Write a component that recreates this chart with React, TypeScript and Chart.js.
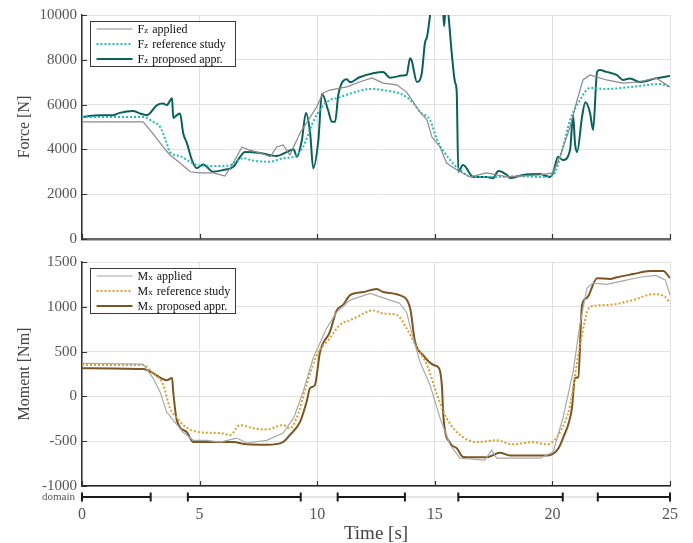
import React, { useEffect, useRef } from "react";
import { Chart, registerables } from "chart.js";

Chart.register(...registerables);

// ---------- data ----------
const X_TICKS = [0, 5, 10, 15, 20, 25];
const FZ_TICKS = [0, 2000, 4000, 6000, 8000, 10000];
const MX_TICKS = [-1000, -500, 0, 500, 1000, 1500];

const FZ_APPLIED_T = [0, 2.6, 3.0, 3.45, 3.74, 4.17, 4.6, 5.0, 5.58, 6.08, 6.43, 6.8, 7.06, 7.7, 8.0, 8.28, 8.55, 8.84, 9.27, 9.62, 9.98, 10.25, 10.54, 11.26, 11.8, 12.33, 12.8, 13.38, 13.8, 14.08, 14.37, 14.67, 14.88, 15.22, 15.5, 15.94, 16.5, 17.2, 18.07, 19.47, 20.03, 20.32, 20.75, 21.05, 21.3, 21.6, 22.3, 23.0, 23.7, 24.4, 25];
const FZ_APPLIED = [5230, 5230, 4730, 4110, 3750, 3390, 3000, 2950, 2950, 2810, 3390, 4110, 3990, 3800, 3670, 4110, 4200, 3750, 4730, 5300, 5900, 6520, 6650, 6790, 7010, 7190, 6960, 6880, 6560, 6120, 5670, 5310, 4550, 4110, 3390, 3080, 2770, 2950, 2770, 2860, 2950, 3670, 5000, 6200, 7100, 7320, 7100, 6960, 7010, 7190, 6790];

const FZ_REF_T = [0, 2.6, 3.03, 3.32, 3.6, 3.74, 4.17, 4.46, 4.88, 5.74, 6.3, 6.85, 7.27, 8.0, 8.56, 9.0, 9.4, 9.8, 10.2, 10.54, 10.83, 11.5, 12.25, 12.8, 13.65, 14.08, 14.37, 14.8, 15.1, 15.65, 16.07, 16.6, 17.5, 18.5, 19.5, 20.03, 20.45, 20.75, 21.17, 21.6, 22.3, 23.7, 24.57, 25];
const FZ_REF = [5450, 5450, 5230, 5000, 4280, 3880, 3700, 3530, 3300, 3260, 3300, 3610, 3500, 3450, 3610, 3670, 4110, 5170, 5900, 6200, 6290, 6520, 6700, 6650, 6430, 6070, 5670, 5310, 4420, 3530, 3080, 2770, 2770, 2800, 2770, 2860, 4110, 5310, 6200, 6740, 6700, 6830, 6920, 6790];

const FZ_PROP_T = [0, 0.77, 1.33, 1.6, 2.17, 2.47, 2.76, 3.19, 3.45, 3.6, 3.83, 3.88, 4.03, 4.17, 4.3, 4.46, 4.67, 4.88, 5.15, 5.58, 6.0, 6.43, 6.72, 6.93, 7.57, 8.28, 8.7, 9.0, 9.13, 9.35, 9.52, 9.7, 9.83, 10.05, 10.2, 10.46, 10.63, 10.76, 10.9, 11.26, 11.4, 11.8, 12.38, 12.8, 13.1, 13.65, 13.8, 13.95, 14.02, 14.24, 14.45, 14.58, 14.67, 14.8, 14.95, 15.2, 15.35, 15.4, 15.48, 15.58, 15.72, 15.86, 15.93, 16.0, 16.2, 16.64, 17.2, 17.48, 17.7, 18.07, 18.2, 18.75, 19.47, 19.9, 20.03, 20.24, 20.45, 20.75, 20.88, 20.96, 21.05, 21.26, 21.4, 21.6, 21.73, 21.9, 22.02, 22.3, 22.75, 23.0, 23.3, 23.7, 24.4, 25];
const FZ_PROP = [5450, 5530, 5530, 5630, 5710, 5600, 5530, 5980, 6050, 5980, 6280, 5400, 5530, 5600, 4730, 4280, 3530, 3160, 3330, 3000, 3080, 3220, 3670, 3880, 3840, 3710, 3880, 4010, 3670, 4420, 5630, 4730, 3160, 4420, 6480, 5760, 5230, 5230, 6450, 7130, 7000, 7220, 7400, 7460, 7200, 7300, 7320, 8070, 7950, 7010, 7430, 8750, 9030, 10000, 11500, 11000, 10200, 9500, 10800, 10000, 8300, 7000, 6600, 3000, 3300, 2770, 2770, 2720, 3040, 2860, 2720, 2860, 2900, 2770, 2950, 3670, 3530, 3970, 5530, 4280, 3880, 5450, 6100, 5630, 4870, 7460, 7540, 7460, 7320, 7100, 7170, 7010, 7170, 7280];

const MX_APPLIED_T = [0, 2.6, 3.02, 3.32, 3.6, 3.88, 4.3, 4.73, 5.3, 5.87, 6.58, 7.0, 7.85, 8.55, 9.0, 9.4, 9.83, 10.4, 10.83, 11.4, 12.25, 13.1, 13.5, 13.8, 14.08, 14.37, 14.8, 15.22, 15.65, 16.07, 17.13, 17.42, 17.63, 17.9, 19.47, 20.03, 20.45, 20.88, 21.17, 21.47, 21.73, 22.3, 23.0, 23.7, 24.4, 24.8, 25];
const MX_APPLIED = [369, 360, 205, 50, -175, -265, -400, -490, -490, -510, -465, -520, -490, -410, -240, 50, 430, 760, 940, 1075, 1150, 1075, 1040, 940, 650, 385, 125, -240, -540, -690, -710, -600, -690, -690, -690, -620, -240, 270, 800, 1210, 1265, 1250, 1290, 1330, 1350, 1300, 1130];

const MX_REF_T = [0, 2.6, 3.02, 3.45, 3.74, 4.03, 4.46, 5.0, 5.87, 6.3, 6.72, 7.27, 7.85, 8.55, 8.84, 9.13, 9.55, 9.98, 10.54, 10.97, 11.4, 11.68, 12.38, 12.8, 13.38, 13.8, 14.24, 14.67, 15.1, 15.5, 16.07, 16.8, 17.63, 18.3, 19.17, 19.76, 20.32, 20.75, 21.17, 21.6, 22.3, 23.43, 24.28, 24.8, 25];
const MX_REF = [350, 350, 260, 130, -130, -240, -350, -400, -410, -430, -320, -355, -370, -320, -355, -240, 130, 460, 650, 800, 850, 885, 960, 925, 910, 760, 540, 350, 15, -240, -430, -510, -490, -535, -510, -535, -400, -100, 570, 1000, 1020, 1075, 1140, 1110, 1040];

const MX_PROP_T = [0, 2.6, 3.02, 3.32, 3.6, 3.83, 3.88, 4.03, 4.46, 4.73, 5.3, 6.43, 7.0, 7.85, 8.55, 8.84, 9.27, 9.55, 9.7, 9.9, 10.12, 10.54, 10.83, 11.1, 11.4, 11.97, 12.53, 12.8, 13.5, 13.95, 14.16, 14.5, 14.95, 15.18, 15.3, 15.37, 15.65, 15.94, 16.2, 17.2, 17.77, 18.2, 19.76, 20.2, 20.45, 20.83, 20.96, 21.1, 21.26, 21.47, 21.9, 22.45, 22.75, 23.43, 24.15, 24.72, 25];
const MX_PROP = [315, 305, 260, 210, 180, 205, 50, -265, -400, -510, -510, -510, -535, -540, -510, -430, -285, -60, 95, 125, 495, 720, 960, 1020, 1130, 1165, 1200, 1165, 1130, 985, 610, 460, 350, 315, 125, -240, -520, -580, -675, -680, -630, -660, -660, -600, -465, -130, 205, 215, 1020, 1100, 1320, 1310, 1330, 1365, 1400, 1400, 1320];

const DOMAIN_START = [0, 4.5, 10.87, 16, 21.93];
const DOMAIN_END = [2.92, 9.3, 13.73, 20.44, 25];

const FZ_LABELS = ["Fz applied", "Fz reference study", "Fz proposed appr."];
const MX_LABELS = ["Mx applied", "Mx reference study", "Mx proposed appr."];

// ---------- styling ----------
const SERIF = "'Liberation Serif', 'DejaVu Serif', serif";
const GRID = "#e2e2e2";

const pts = (t: number[], v: number[]) => t.map((x, i) => ({ x, y: v[i] }));

const innerTicks = {
  id: "innerTicks",
  afterDatasetsDraw(chart: any) {
    const { ctx, chartArea, scales } = chart;
    ctx.save();
    ctx.strokeStyle = "#333";
    ctx.lineWidth = 1.2;
    ctx.beginPath();
    scales.y.ticks.forEach((t: any) => {
      const py = Math.round(scales.y.getPixelForValue(t.value)) + 0.5;
      ctx.moveTo(chartArea.left, py);
      ctx.lineTo(chartArea.left + 5, py);
    });
    scales.x.ticks.forEach((t: any) => {
      const px = Math.round(scales.x.getPixelForValue(t.value)) + 0.5;
      ctx.moveTo(px, chartArea.bottom);
      ctx.lineTo(px, chartArea.bottom - 5);
    });
    ctx.stroke();
    ctx.restore();
  },
};

const boxLegend = {
  id: "boxLegend",
  afterDraw(chart: any) {
    const { ctx, chartArea } = chart;
    const ds = chart.data.datasets;
    const bx = chartArea.left + 8.5;
    const by = chartArea.top + 6.5;
    const bw = 145;
    const rowH = 15;
    const bh = ds.length * rowH;
    ctx.save();
    ctx.fillStyle = "#ffffff";
    ctx.fillRect(bx, by, bw, bh);
    ctx.strokeStyle = "#3a3a3a";
    ctx.lineWidth = 1;
    ctx.strokeRect(bx, by, bw, bh);
    ds.forEach((d: any, i: number) => {
      const y = by + 7.5 + i * rowH;
      ctx.beginPath();
      ctx.setLineDash(d.borderDash || []);
      ctx.strokeStyle = d.borderColor;
      ctx.lineWidth = d.borderWidth;
      ctx.moveTo(bx + 6, y);
      ctx.lineTo(bx + 42, y);
      ctx.stroke();
      ctx.setLineDash([]);
      const label: string = d.label;
      ctx.fillStyle = "#111";
      ctx.textBaseline = "middle";
      ctx.textAlign = "left";
      let x = bx + 47;
      ctx.font = `12px ${SERIF}`;
      ctx.fillText(label[0], x, y + 0.5);
      x += ctx.measureText(label[0]).width;
      ctx.font = `9px ${SERIF}`;
      ctx.fillText(label[1], x, y + 2);
      x += ctx.measureText(label[1]).width;
      ctx.font = `12px ${SERIF}`;
      ctx.fillText(label.slice(2), x + 1, y + 0.5);
    });
    ctx.restore();
  },
};

function lineConfig(
  datasets: any[],
  yMin: number,
  yMax: number,
  yTicks: number[],
  yTitle: string,
  xBorder: { color: string; width: number },
  padding: any
): any {
  return {
    type: "line",
    data: { datasets },
    plugins: [innerTicks, boxLegend],
    options: {
      animation: false,
      responsive: false,
      devicePixelRatio: 1,
      layout: { padding },
      elements: { point: { radius: 0 }, line: { tension: 0 } },
      plugins: { legend: { display: false }, tooltip: { enabled: false } },
      scales: {
        x: {
          type: "linear",
          min: 0,
          max: 25,
          afterBuildTicks: (s: any) => {
            s.ticks = X_TICKS.map((v) => ({ value: v }));
          },
          afterFit: (s: any) => {
            s.height = 0;
          },
          ticks: { display: false },
          grid: { color: GRID, lineWidth: 1, drawTicks: false },
          border: { color: xBorder.color, width: xBorder.width },
        },
        y: {
          type: "linear",
          min: yMin,
          max: yMax,
          afterBuildTicks: (s: any) => {
            s.ticks = yTicks.map((v) => ({ value: v }));
          },
          afterFit: (s: any) => {
            s.width = 82;
          },
          ticks: {
            font: { family: SERIF, size: 15 },
            color: "#555",
            padding: 5,
            callback: (v: any) => String(v),
          },
          grid: { color: GRID, lineWidth: 1, drawTicks: false },
          border: { color: "#333", width: 1.5 },
          title: {
            display: true,
            text: yTitle,
            font: { family: SERIF, size: 16 },
            color: "#444",
            padding: { top: 15, bottom: 0 },
          },
        },
      },
    },
  };
}

export default function App() {
  const topRef = useRef<HTMLCanvasElement>(null);
  const midRef = useRef<HTMLCanvasElement>(null);
  const botRef = useRef<HTMLCanvasElement>(null);

  useEffect(() => {
    const fzSets = [
      { label: FZ_LABELS[0], data: pts(FZ_APPLIED_T, FZ_APPLIED), borderColor: "#8a8a8a", borderWidth: 1.2 },
      { label: FZ_LABELS[1], data: pts(FZ_REF_T, FZ_REF), borderColor: "#22bcbc", borderWidth: 2, borderDash: [2, 2], cubicInterpolationMode: "monotone" },
      { label: FZ_LABELS[2], data: pts(FZ_PROP_T, FZ_PROP), borderColor: "#0b5f5c", borderWidth: 2, cubicInterpolationMode: "monotone" },
    ];
    const mxSets = [
      { label: MX_LABELS[0], data: pts(MX_APPLIED_T, MX_APPLIED), borderColor: "#a8a8a8", borderWidth: 1.2 },
      { label: MX_LABELS[1], data: pts(MX_REF_T, MX_REF), borderColor: "#d9a02c", borderWidth: 2, borderDash: [2, 2], cubicInterpolationMode: "monotone" },
      { label: MX_LABELS[2], data: pts(MX_PROP_T, MX_PROP), borderColor: "#7b5522", borderWidth: 2, cubicInterpolationMode: "monotone" },
    ];

    // top canvas: 0..256, plot 15..239
    const c1 = new Chart(
      topRef.current as HTMLCanvasElement,
      lineConfig(fzSets, 0, 10000, FZ_TICKS, "Force [N]", { color: "#666", width: 2.5 }, { top: 15, bottom: 17, left: 0, right: 23 })
    );
    // middle canvas: 246..502, plot 262..486
    const c2 = new Chart(
      midRef.current as HTMLCanvasElement,
      lineConfig(mxSets, -1000, 1500, MX_TICKS, "Moment [Nm]", { color: "#222", width: 1.5 }, { top: 16, bottom: 16, left: 0, right: 23 })
    );

    const domainPts: any[] = [];
    DOMAIN_START.forEach((s, i) => {
      domainPts.push({ x: s, y: 0 }, { x: DOMAIN_END[i], y: 0 }, { x: DOMAIN_END[i], y: null });
    });

    // bottom canvas: 474..543, plot 490..504
    const c3 = new Chart(botRef.current as HTMLCanvasElement, {
      type: "line",
      data: {
        datasets: [
          {
            data: domainPts,
            borderColor: "#1a1a1a",
            borderWidth: 2,
            spanGaps: false,
            pointStyle: "line",
            pointRadius: 4.5,
            pointRotation: 90,
            pointBorderWidth: 2,
            pointBorderColor: "#1a1a1a",
            clip: false,
          } as any,
        ],
      },
      options: {
        animation: false,
        responsive: false,
        devicePixelRatio: 1,
        layout: { padding: { top: 16, bottom: 0, left: 0, right: 23 } },
        plugins: { legend: { display: false }, tooltip: { enabled: false } },
        scales: {
          x: {
            type: "linear",
            min: 0,
            max: 25,
            afterBuildTicks: (s: any) => {
              s.ticks = X_TICKS.map((v) => ({ value: v }));
            },
            afterFit: (s: any) => {
              s.height = 39;
            },
            ticks: { font: { family: SERIF, size: 16 }, color: "#555", padding: -7 },
            grid: { display: false },
            border: { display: false },
            title: {
              display: true,
              text: "Time [s]",
              font: { family: SERIF, size: 19, lineHeight: 1 },
              color: "#444",
              padding: { top: 0, bottom: -1 },
            },
          },
          y: {
            type: "linear",
            min: -1,
            max: 1,
            afterBuildTicks: (s: any) => {
              s.ticks = [{ value: 0 }];
            },
            afterFit: (s: any) => {
              s.width = 82;
            },
            ticks: { font: { family: SERIF, size: 11 }, color: "#555", padding: 7, callback: () => "domain" },
            grid: { color: "#e6e6e6", lineWidth: 2, drawTicks: false },
            border: { display: false },
          },
        },
      } as any,
    });

    return () => {
      c1.destroy();
      c2.destroy();
      c3.destroy();
    };
  }, []);

  return (
    <div style={{ position: "absolute", left: 0, top: 0, width: 693, height: 543, background: "#ffffff", overflow: "hidden" }}>
      <canvas ref={topRef} width={693} height={256} style={{ position: "absolute", left: 0, top: 0, display: "block" }} />
      <canvas ref={midRef} width={693} height={256} style={{ position: "absolute", left: 0, top: 246, display: "block" }} />
      <canvas ref={botRef} width={693} height={69} style={{ position: "absolute", left: 0, top: 474, display: "block" }} />
    </div>
  );
}
